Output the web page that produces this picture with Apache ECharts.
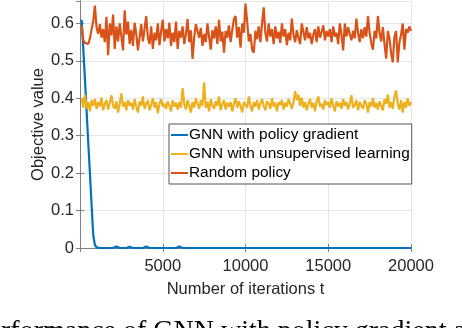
<!DOCTYPE html>
<html style="height: 100%">
<head>
    <meta charset="utf-8">
</head>
<body style="height: 100%; margin: 0; background: #fff">
<div id="container" style="width: 462px; height: 328px"></div>
<script type="text/javascript" src="https://cdn.jsdelivr.net/npm/echarts@6/dist/echarts.min.js"></script>
<script type="text/javascript">
var dom = document.getElementById("container");
var myChart = echarts.init(dom);

// iteration step of the recorded curves
var step = 100;
var seriesNames = ['GNN with policy gradient', 'GNN with unsupervised learning', 'Random policy'];
var xTicks = [5000, 10000, 15000, 20000];

var policyGradient = [
    0.61, 0.53, 0.45, 0.365, 0.28, 0.20, 0.115, 0.035, 0.008, 0.002,
    0.001, 0, 0, 0, 0, 0, 0, 0, 0, 0,
    0, 0.004, 0, 0, 0, 0, 0, 0, 0, 0.003,
    0, 0, 0, 0, 0, 0, 0, 0, 0, 0.004,
    0, 0, 0, 0, 0, 0, 0, 0, 0, 0,
    0, 0, 0, 0, 0, 0, 0, 0, 0, 0.004,
    0, 0, 0, 0, 0, 0, 0, 0, 0, 0,
    0, 0, 0, 0, 0, 0, 0, 0, 0, 0,
    0, 0, 0, 0, 0, 0, 0, 0, 0, 0,
    0, 0, 0, 0, 0, 0, 0, 0, 0, 0,
    0, 0, 0, 0, 0, 0, 0, 0, 0, 0,
    0, 0, 0, 0, 0, 0, 0, 0, 0, 0,
    0, 0, 0, 0, 0, 0, 0, 0, 0, 0,
    0, 0, 0, 0, 0, 0, 0, 0, 0, 0,
    0, 0, 0, 0, 0, 0, 0, 0, 0, 0,
    0, 0, 0, 0, 0, 0, 0, 0, 0, 0,
    0, 0, 0, 0, 0, 0, 0, 0, 0, 0,
    0, 0, 0, 0, 0, 0, 0, 0, 0, 0,
    0, 0, 0, 0, 0, 0, 0, 0, 0, 0,
    0, 0, 0, 0, 0, 0, 0, 0, 0, 0
];

var unsupervised = [
    0.40, 0.375, 0.41, 0.372, 0.39, 0.365, 0.395, 0.38, 0.398, 0.372,
    0.39, 0.378, 0.402, 0.368, 0.385, 0.395, 0.37, 0.388, 0.408, 0.38,
    0.372, 0.392, 0.362, 0.385, 0.413, 0.378, 0.39, 0.368, 0.395, 0.38,
    0.388, 0.37, 0.398, 0.378, 0.362, 0.392, 0.38, 0.405, 0.372, 0.385,
    0.395, 0.368, 0.382, 0.40, 0.375, 0.39, 0.36, 0.385, 0.398, 0.378,
    0.385, 0.372, 0.392, 0.38, 0.365, 0.395, 0.378, 0.388, 0.37, 0.39,
    0.375, 0.427, 0.385, 0.37, 0.395, 0.38, 0.362, 0.39, 0.375, 0.40,
    0.385, 0.372, 0.395, 0.38, 0.443, 0.375, 0.39, 0.365, 0.398, 0.38,
    0.372, 0.392, 0.38, 0.405, 0.368, 0.385, 0.395, 0.37, 0.388, 0.378,
    0.39, 0.365, 0.385, 0.40, 0.375, 0.392, 0.38, 0.362, 0.39, 0.383,
    0.375, 0.405, 0.38, 0.365, 0.39, 0.378, 0.395, 0.37, 0.385, 0.398,
    0.38, 0.368, 0.392, 0.385, 0.372, 0.40, 0.378, 0.388, 0.365, 0.39,
    0.382, 0.395, 0.37, 0.388, 0.378, 0.398, 0.385, 0.372, 0.39, 0.419,
    0.395, 0.41, 0.38, 0.402, 0.375, 0.39, 0.368, 0.385, 0.398, 0.375,
    0.388, 0.365, 0.392, 0.405, 0.378, 0.385, 0.37, 0.395, 0.382, 0.39,
    0.375, 0.40, 0.38, 0.365, 0.392, 0.378, 0.388, 0.372, 0.398, 0.38,
    0.39, 0.37, 0.385, 0.408, 0.375, 0.382, 0.395, 0.368, 0.39, 0.38,
    0.372, 0.395, 0.385, 0.362, 0.39, 0.378, 0.40, 0.375, 0.388, 0.37,
    0.392, 0.38, 0.368, 0.398, 0.385, 0.41, 0.375, 0.39, 0.372, 0.405,
    0.421, 0.385, 0.37, 0.395, 0.362, 0.39, 0.375, 0.40, 0.38, 0.39
];

var randomPolicy = [
    0.595, 0.555, 0.548, 0.552, 0.545, 0.56, 0.585, 0.605, 0.648, 0.59,
    0.572, 0.598, 0.562, 0.585, 0.55, 0.618, 0.515, 0.60, 0.568, 0.624,
    0.532, 0.592, 0.552, 0.60, 0.565, 0.528, 0.635, 0.57, 0.605, 0.545,
    0.583, 0.54, 0.602, 0.572, 0.528, 0.562, 0.598, 0.552, 0.585, 0.62,
    0.562, 0.545, 0.592, 0.532, 0.575, 0.555, 0.60, 0.542, 0.578, 0.61,
    0.552, 0.585, 0.56, 0.602, 0.54, 0.575, 0.55, 0.605, 0.532, 0.58,
    0.562, 0.592, 0.545, 0.572, 0.612, 0.55, 0.582, 0.505, 0.562, 0.598,
    0.603, 0.562, 0.588, 0.54, 0.572, 0.55, 0.60, 0.565, 0.53, 0.582,
    0.56, 0.592, 0.545, 0.61, 0.552, 0.578, 0.522, 0.58, 0.562, 0.595,
    0.55, 0.582, 0.612, 0.62, 0.562, 0.59, 0.535, 0.60, 0.575, 0.653,
    0.605, 0.552, 0.572, 0.53, 0.522, 0.58, 0.558, 0.592, 0.55, 0.60,
    0.643, 0.575, 0.552, 0.60, 0.565, 0.585, 0.545, 0.592, 0.56, 0.578,
    0.548, 0.60, 0.565, 0.585, 0.542, 0.575, 0.555, 0.613, 0.57, 0.55,
    0.582, 0.562, 0.545, 0.60, 0.578, 0.555, 0.59, 0.56, 0.575, 0.545,
    0.57, 0.585, 0.55, 0.592, 0.562, 0.578, 0.595, 0.555, 0.58, 0.565,
    0.585, 0.55, 0.592, 0.565, 0.575, 0.545, 0.60, 0.57, 0.528, 0.60,
    0.565, 0.59, 0.572, 0.555, 0.58, 0.56, 0.613, 0.575, 0.55, 0.585,
    0.56, 0.59, 0.565, 0.62, 0.575, 0.548, 0.53, 0.58, 0.56, 0.62,
    0.575, 0.552, 0.59, 0.545, 0.506, 0.58, 0.56, 0.52, 0.496, 0.565,
    0.58, 0.496, 0.55, 0.57, 0.60, 0.53, 0.585, 0.575, 0.592, 0.58
];

function pairs(values) {
    var out = [];
    for (var i = 0; i < values.length; i++) {
        out.push([(i + 1) * step, values[i]]);
    }
    return out;
}

var font = 'Liberation Sans, Arial, sans-serif';
var axisGray = '#808080';
var textColor = '#262626';

function lineSeries(name, values, color) {
    return {
        name: name,
        type: 'line',
        data: pairs(values),
        showSymbol: false,
        animation: false,
        color: color,
        lineStyle: { width: 2.2, color: color }
    };
}

option = {
    backgroundColor: '#fff',
    textStyle: { fontFamily: font },
    grid: { left: 80, right: 51, top: 1, bottom: 80 },
    legend: {
        orient: 'vertical',
        left: 169,
        top: 124,
        data: seriesNames,
        icon: 'rect',
        itemWidth: 17,
        itemHeight: 2,
        itemGap: 3,
        padding: [3, 2, 3, 2],
        backgroundColor: '#fff',
        borderColor: '#555',
        borderWidth: 1,
        textStyle: { fontSize: 15.4, color: '#000', padding: [0, 0, 0, -4], lineHeight: 16 }
    },
    xAxis: [{
        type: 'value',
        min: 0,
        max: 20000,
        interval: 5000,
        name: 'Number of iterations t',
        nameLocation: 'middle',
        nameGap: 33,
        nameMoveOverlap: false,
        nameTextStyle: { fontSize: 16.5, color: textColor },
        axisLine: { lineStyle: { color: axisGray } },
        axisTick: { inside: true, length: 4, lineStyle: { color: axisGray } },
        axisLabel: {
            fontSize: 16.5, color: textColor, margin: 10, showMinLabel: false,
            formatter: function (v) { return xTicks.indexOf(v) >= 0 ? String(v) : ''; }
        },
        splitLine: { show: true, lineStyle: { color: '#e6e6e6' } }
    }, {
        type: 'value',
        position: 'top',
        min: 0,
        max: 20000,
        interval: 5000,
        axisLine: { show: true, lineStyle: { color: axisGray } },
        axisTick: { show: true, inside: true, length: 4, lineStyle: { color: axisGray } },
        axisLabel: { show: false },
        splitLine: { show: false }
    }],
    yAxis: [{
        type: 'value',
        min: 0,
        max: 0.66,
        interval: 0.1,
        name: 'Objective value',
        nameLocation: 'middle',
        nameGap: 33,
        nameMoveOverlap: false,
        nameTextStyle: { fontSize: 16.5, color: textColor },
        axisLine: { show: true, lineStyle: { color: axisGray } },
        axisTick: { show: true, inside: true, length: 4, lineStyle: { color: axisGray } },
        axisLabel: { fontSize: 16.5, color: textColor, margin: 6, showMaxLabel: false },
        splitLine: { show: true, lineStyle: { color: '#e6e6e6' } }
    }, {
        type: 'value',
        position: 'right',
        min: 0,
        max: 0.66,
        interval: 0.1,
        axisLine: { show: true, lineStyle: { color: axisGray } },
        axisTick: { show: true, inside: true, length: 4, lineStyle: { color: axisGray } },
        axisLabel: { show: false },
        splitLine: { show: false }
    }],
    graphic: [{
        type: 'text',
        left: -27,
        top: 318,
        style: {
            text: 'Performance of GNN with policy gradient and',
            font: '28px "Liberation Serif", "Times New Roman", serif',
            fill: '#000'
        }
    }],
    series: [
        lineSeries(seriesNames[0], policyGradient, '#0072BD'),
        lineSeries(seriesNames[1], unsupervised, '#EDB120'),
        lineSeries(seriesNames[2], randomPolicy, '#D95319')
    ]
};

myChart.setOption(option);
</script>
</body>
</html>
